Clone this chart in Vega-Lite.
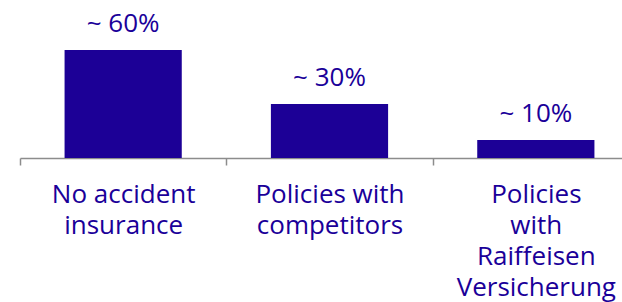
{
  "$schema": "https://vega.github.io/schema/vega-lite/v6.json",
  "autosize": {"type": "none"},
  "width": 602,
  "height": 158,
  "padding": {"left": 20, "top": 0, "right": 0, "bottom": 144},
  "background": "white",
  "config": {"view": {"stroke": null}, "font": "Open Sans"},
  "data": {
    "values": [
      {"category": "No accident insurance", "share": 60, "label": "~ 60%"},
      {"category": "Policies with competitors", "share": 30, "label": "~ 30%"},
      {"category": "Policies with Raiffeisen Versicherung", "share": 10, "label": "~ 10%"}
    ]
  },
  "encoding": {
    "x": {
      "field": "category",
      "type": "nominal",
      "sort": null,
      "scale": {"range": [0, 619], "paddingInner": 0, "paddingOuter": 0},
      "axis": {
        "title": null,
        "labelAngle": 0,
        "tickBand": "extent",
        "domainColor": "#8c8c8c",
        "domainWidth": 1.5,
        "tickColor": "#8c8c8c",
        "tickWidth": 1.5,
        "tickSize": 7,
        "labelPadding": 37,
        "labelBaseline": "alphabetic",
        "labelFontSize": 26,
        "labelColor": "#1a0099",
        "labelLineHeight": 31,
        "labelFont": "Open Sans",
        "labelLimit": 0,
        "labelExpr": "datum.value == 'No accident insurance' ? ['No accident', 'insurance'] : datum.value == 'Policies with competitors' ? ['Policies with', 'competitors'] : datum.value == 'Policies with Raiffeisen Versicherung' ? ['Policies', 'with', 'Raiffeisen', 'Versicherung'] : ''"
      }
    },
    "y": {
      "field": "share",
      "type": "quantitative",
      "scale": {"domain": [0, 87.78], "nice": false},
      "axis": null
    }
  },
  "layer": [
    {"mark": {"type": "bar", "color": "#1c0096", "width": {"band": 0.568}}},
    {
      "mark": {"type": "text", "baseline": "alphabetic", "dy": -18, "fontSize": 26, "color": "#1a0099", "font": "Open Sans"},
      "encoding": {"text": {"field": "label"}}
    }
  ]
}
